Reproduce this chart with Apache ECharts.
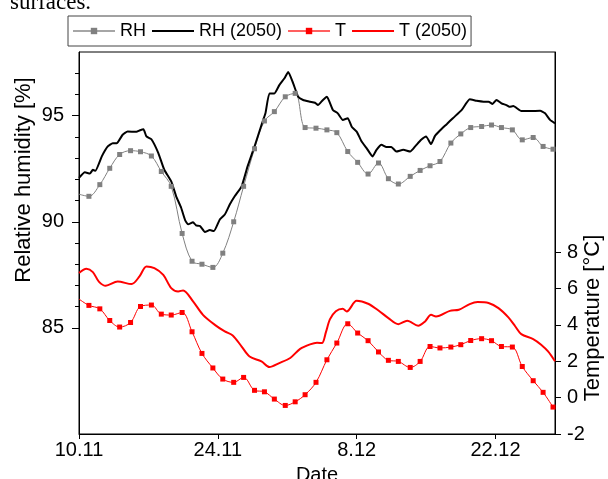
<!DOCTYPE html>
<html>
<head>
<meta charset="utf-8">
<script src="https://cdn.jsdelivr.net/npm/echarts@6.0.0/dist/echarts.min.js"></script>
<style>
  html, body { margin: 0; padding: 0; background: #fff; }
  #chart { width: 608px; height: 479px; }
</style>
</head>
<body>
<div id="chart"></div>
<script>
// x = days since 10.11
const xTickDays = [0, 14, 28, 42]
const xTickLabels = ['10.11', '24.11', '8.12', '22.12']

// measured series (one marker per day)
const markDays = [0, 1.0, 2.1, 3.1, 4.1, 5.2, 6.2, 7.3, 8.3, 9.3, 10.4, 11.4, 12.4, 13.5, 14.5, 15.6, 16.6, 17.7, 18.7, 19.7, 20.8, 21.8, 22.8, 23.9, 25.0, 26.0, 27.1, 28.1, 29.15, 30.2, 31.2, 32.2, 33.4, 34.4, 35.4, 36.4, 37.5, 38.5, 39.5, 40.6, 41.6, 42.6, 43.7, 44.7, 45.8, 46.8, 47.8]
const rhValues = [91.3, 91.2, 91.75, 92.52, 93.17, 93.35, 93.3, 93.1, 92.37, 91.67,
  89.45, 88.14, 88.0, 87.85, 88.52, 90.0, 91.67, 93.44, 94.75, 95.19,
  95.89, 96.05, 94.44, 94.41, 94.33, 94.2, 93.31, 92.8, 92.25, 92.77,
  92.03, 91.78, 92.14, 92.42, 92.64, 92.84, 93.71, 94.14, 94.44, 94.49,
  94.56, 94.44, 94.33, 93.86, 93.97, 93.55, 93.42]
const tValues = [5.42, 5.07, 4.88, 4.24, 3.88, 4.13, 5.01, 5.09, 4.59, 4.54,
  4.68, 3.62, 2.43, 1.63, 1.02, 0.84, 1.11, 0.40, 0.32, -0.08,
  -0.43, -0.23, 0.16, 0.84, 2.08, 3.0, 4.06, 3.55, 3.13, 2.51,
  2.05, 1.99, 1.66, 1.99, 2.81, 2.73, 2.78, 2.91, 3.14, 3.24,
  3.13, 2.81, 2.78, 1.71, 0.93, 0.29, -0.52]

// 2050 projections
const rh50Days = [0, 0.6, 1.1, 1.4, 1.65, 2.3, 2.9, 3.4, 3.8, 4.4,
  4.9, 5.8, 6.1, 6.5, 6.8, 7.3, 8.0, 8.6, 9.3, 9.8,
  10.3, 10.7, 11.0, 11.5, 11.8, 12.2, 12.7, 13.2, 13.6, 14.2,
  14.7, 15.2, 15.7, 16.4, 17.0, 17.7, 18.4, 18.8, 19.2, 19.7,
  20.2, 20.7, 21.1, 21.6, 22.1, 22.6, 23.3, 23.8, 24.1, 24.6,
  25.0, 25.6, 26.1, 26.6, 27.1, 27.5, 28.0, 28.5, 29.0, 29.6,
  30.0, 30.5, 31.0, 31.5, 32.0, 32.7, 33.4, 33.9, 34.5, 35.0,
  35.5, 35.9, 36.4, 37.1, 37.7, 38.6, 39.4, 40.1, 40.8, 41.3,
  41.7, 42.1, 42.6, 43.1, 43.4, 43.8, 44.6, 45.5, 46.5, 47.0,
  47.5, 48.0]
const rh50Values = [92.07, 92.33, 92.27, 92.45, 92.4, 93.08, 93.55, 93.7, 93.7, 94.1,
  94.25, 94.24, 94.3, 94.36, 94.02, 93.89, 93.24, 92.45, 91.9, 91.2,
  90.66, 90.08, 89.88, 89.98, 89.83, 89.8, 89.52, 89.61, 89.56, 90.11,
  90.34, 90.81, 91.2, 91.67, 92.61, 93.55, 94.56, 95.11, 96.05, 96.05,
  96.44, 96.75, 97.06, 96.52, 95.89, 95.74, 95.66, 95.61, 95.5, 95.74,
  95.89, 95.27, 95.11, 94.8, 94.88, 94.48, 94.25, 93.78, 93.47, 93.08,
  93.39, 93.63, 93.52, 93.52, 93.31, 93.39, 93.31, 93.55, 93.86, 94.02,
  93.66, 94.05, 94.3, 94.61, 94.88, 95.27, 95.77, 95.7, 95.66, 95.66,
  95.55, 95.74, 95.58, 95.5, 95.42, 95.45, 95.22, 95.22, 95.23, 95.11,
  94.8, 94.64]
const t50Days = [0, 0.75, 1.4, 2.0, 2.7, 3.9, 5.3, 6.1, 6.8, 7.6,
  8.5, 9.3, 10.0, 10.5, 11.5, 12.5, 13.7, 14.7, 15.5, 16.4,
  17.2, 18.4, 19.2, 20.2, 21.3, 22.3, 23.3, 24.0, 24.5, 24.9,
  25.3, 25.9, 26.6, 27.0, 28.0, 29.15, 30.2, 31.2, 32.2, 33.1,
  34.2, 34.9, 35.5, 36.0, 37.4, 38.3, 39.4, 40.2, 41.3, 42.3,
  43.3, 44.0, 44.6, 45.8, 46.6, 47.3, 48.0]
const t50Values = [6.85, 7.08, 6.9, 6.38, 6.15, 6.38, 6.24, 6.66, 7.21, 7.12,
  6.75, 6.02, 5.84, 5.89, 5.29, 4.55, 4.0, 3.64, 3.42, 2.81,
  2.26, 1.99, 1.68, 1.9, 2.18, 2.68, 2.93, 3.02, 3.0, 3.6,
  4.3, 4.75, 4.88, 4.74, 5.32, 5.16, 4.79, 4.37, 4.04, 4.23,
  3.95, 4.19, 4.55, 4.46, 4.77, 4.83, 5.14, 5.25, 5.2, 4.92,
  4.41, 3.91, 3.49, 3.22, 2.91, 2.54, 2.0]

// axis ticks
const rhMajorTicks = [85, 90, 95]
const rhMinorTicks = [86, 87, 88, 89, 91, 92, 93, 94, 96, 97]
const tTicks = [-2, 0, 2, 4, 6, 8]

const FONT = '"Liberation Sans", Arial, sans-serif'

// first point of the measured lines has no marker
const withMarkers = (days, values) =>
  days.map((d, i) => (i === 0 ? { value: [d, values[i]], symbol: 'none' } : [d, values[i]]))
const pairs = (days, values) => days.map((d, i) => [d, values[i]])

const chart = echarts.init(document.getElementById('chart'), null, { renderer: 'canvas' })

const option = {
  animation: false,
  textStyle: { fontFamily: FONT, color: '#000' },
  grid: {
    left: 79,
    right: 53,
    top: 52,
    bottom: 45,
    outerBoundsMode: 'none',
    show: true,
    borderColor: '#000',
    borderWidth: 1,
    backgroundColor: 'transparent'
  },
  legend: {
    left: 68,
    top: 16,
    padding: [6, 4],
    itemGap: 5,
    itemWidth: 42,
    itemHeight: 8,
    borderColor: '#444',
    borderWidth: 1,
    textStyle: { fontSize: 18, color: '#000', fontFamily: FONT },
    data: [
      { name: 'RH', itemStyle: { color: '#808080' }, lineStyle: { color: '#a6a6a6' } },
      { name: 'RH (2050)', itemStyle: { opacity: 0 } },
      { name: 'T', lineStyle: { color: '#ff6060' } },
      { name: 'T (2050)', itemStyle: { opacity: 0 } }
    ]
  },
  xAxis: {
    type: 'value',
    min: 0,
    max: 48,
    splitLine: { show: false },
    axisLine: { onZero: false, lineStyle: { color: '#000', width: 1 } },
    axisTick: { customValues: xTickDays, length: 5, lineStyle: { color: '#000' } },
    axisLabel: {
      customValues: xTickDays,
      fontSize: 20,
      color: '#000',
      margin: 6,
      formatter: (v) => xTickLabels[xTickDays.indexOf(v)] || ''
    },
    name: 'Date',
    nameLocation: 'middle',
    nameGap: 31,
    nameTextStyle: { fontSize: 20, color: '#000' }
  },
  yAxis: [
    {
      type: 'value',
      position: 'left',
      min: 80,
      max: 98,
      splitLine: { show: false },
      axisLine: { show: true, onZero: false, lineStyle: { color: '#000', width: 1 } },
      axisTick: { customValues: rhMajorTicks, length: 7, lineStyle: { color: '#000' } },
      axisLabel: { customValues: rhMajorTicks, fontSize: 20, color: '#000', margin: 15 }
    },
    {
      type: 'value',
      position: 'right',
      min: -2,
      max: 19,
      splitLine: { show: false },
      axisLine: { show: true, onZero: false, lineStyle: { color: '#000', width: 1 } },
      axisTick: { customValues: tTicks, length: 6, lineStyle: { color: '#000' } },
      axisLabel: { customValues: tTicks, fontSize: 20, color: '#000', margin: 12 }
    },
    {
      // minor ticks of the humidity axis
      type: 'value',
      position: 'left',
      min: 80,
      max: 98,
      splitLine: { show: false },
      axisLine: { show: false, onZero: false },
      axisTick: { show: true, customValues: rhMinorTicks, length: 4, lineStyle: { color: '#000' } },
      axisLabel: { show: false }
    }
  ],
  graphic: [
    {
      type: 'text',
      x: 10,
      y: 14,
      style: { text: 'surfaces.', font: '23px "Liberation Serif", serif', fill: '#000', verticalAlign: 'bottom' }
    },
    {
      type: 'text',
      x: 24,
      y: 180,
      rotation: Math.PI / 2,
      style: { text: 'Relative humidity [%]', font: '22px ' + FONT, fill: '#000', align: 'center', verticalAlign: 'middle' }
    },
    {
      type: 'text',
      x: 593,
      y: 318,
      rotation: Math.PI / 2,
      style: { text: 'Temperature [°C]', font: '22px ' + FONT, fill: '#000', align: 'center', verticalAlign: 'middle' }
    }
  ],
  series: [
    {
      name: 'RH',
      type: 'line',
      yAxisIndex: 0,
      data: withMarkers(markDays, rhValues),
      smooth: 0.35,
      symbol: 'rect',
      symbolSize: 5,
      showAllSymbol: true,
      lineStyle: { color: '#808080', width: 1 },
      itemStyle: { color: '#808080' }
    },
    {
      name: 'RH (2050)',
      type: 'line',
      yAxisIndex: 0,
      data: pairs(rh50Days, rh50Values),
      smooth: 0.15,
      showSymbol: false,
      symbol: 'none',
      lineStyle: { color: '#000', width: 2 },
      itemStyle: { color: '#000' }
    },
    {
      name: 'T',
      type: 'line',
      yAxisIndex: 1,
      data: withMarkers(markDays, tValues),
      smooth: 0.35,
      symbol: 'rect',
      symbolSize: 5,
      showAllSymbol: true,
      lineStyle: { color: '#ff0000', width: 1 },
      itemStyle: { color: '#ff0000' }
    },
    {
      name: 'T (2050)',
      type: 'line',
      yAxisIndex: 1,
      data: pairs(t50Days, t50Values),
      smooth: 0.3,
      showSymbol: false,
      symbol: 'none',
      lineStyle: { color: '#ff0000', width: 2 },
      itemStyle: { color: '#ff0000' }
    }
  ]
}

chart.setOption(option)
</script>
</body>
</html>
